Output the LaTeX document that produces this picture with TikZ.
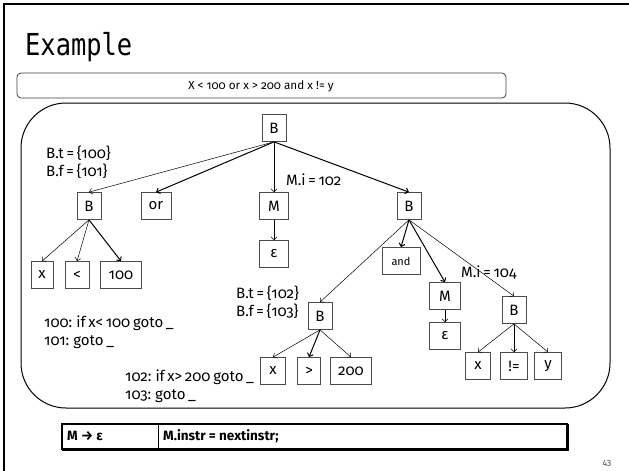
\documentclass[tikz,border=0pt]{standalone}
\usepackage{fontspec}
\setmainfont{Fira Sans}[Numbers=OldStyle]
\newfontfamily\titlefont{DejaVu Sans Mono}
\usetikzlibrary{arrows.meta}
\newcommand\tightsp{\spaceskip=0.18em plus 0.05em\relax}
\tikzset{
  nd/.style={draw=black!70, line width=0.7pt, inner sep=0pt,
             minimum width=24pt, minimum height=27pt, font=\fontsize{15}{15}\selectfont},
  arr/.style={draw=black, line width=0.5pt, -{Straight Barb[length=3pt,width=6pt]}},
  arrb/.style={arr, line width=1pt},
  note/.style={anchor=west, inner sep=0pt, font=\fontsize{15}{18}\selectfont\tightsp, align=left},
}
\begin{document}
\begin{tikzpicture}[x=1pt,y=-1pt]
\useasboundingbox (0,0) rectangle (629,471);
% slide edge
\draw[line width=2pt] (629,4) -- (4,4) -- (4,471);
% title
\node[anchor=base west, inner sep=0pt, yscale=1.19, font=\titlefont\fontsize{25.4}{25.4}\selectfont] (title) at (25,55) {Example};
% expression bar
\draw[black!75, line width=0.8pt, rounded corners=4pt] (17,73) rectangle (506,98);
\node[font=\fontsize{11.7}{11.7}\selectfont] (expr) at (261,86) {X < 100 or x > 200 and x != y};
% parse tree frame
\draw[line width=1pt, rounded corners=45pt] (21,103) rectangle (610,408);

% parse tree nodes
\node[nd] (r) at (274,128) {B};
\node[nd] (b1) at (89,206) {B};
\node[nd, minimum width=30pt] (or) at (156,206) {or};
\node[nd, minimum width=29pt] (m1) at (274,206) {M};
\node[nd, minimum width=29pt] (e1) at (274,254) {ε};
\node[nd] (b2) at (409,206) {B};
\node[nd, minimum width=22pt] (x1) at (42,275) {x};
\node[nd] (lt) at (77,275) {<};
\node[nd, minimum width=41pt] (n100) at (121,275) {100};
\node[nd, minimum width=38pt, font=\fontsize{11}{11}\selectfont] (and) at (401,261) {and};
\node[nd, minimum width=31pt] (m2) at (445,296) {M};
\node[nd, minimum width=31pt] (e2) at (445,336) {ε};
\node[nd] (b3) at (320,316) {B};
\node[nd, minimum width=25pt] (x2) at (273,371) {x};
\node[nd, minimum width=23pt] (gt) at (309,371) {>};
\node[nd, minimum width=41pt] (n200) at (351,371) {200};
\node[nd] (b4) at (514,310) {B};
\node[nd, minimum width=25pt] (x3) at (478,366) {x};
\node[nd, minimum width=27pt] (ne) at (514,366) {!=};
\node[nd, minimum width=27pt] (y) at (548,366) {y};

% edges
\draw[arr]  (r.south) -- (b1.north);
\draw[arrb] (r.south) -- (or.north);
\draw[arr]  (r.south) -- (m1.north);
\draw[arrb] (r.south) -- (b2.north);
\draw[arr]  (m1.south) -- (e1.north);
\draw[arr]  (b1.south) -- (x1.north);
\draw[arr]  (b1.south) -- (lt.north);
\draw[arrb] (b1.south) -- (n100.north);
\draw[arr]  (b2.south) -- (b3.north);
\draw[arrb] (b2.south) -- (and.north);
\draw[arrb] (b2.south) -- (m2.north);
\draw[arr]  (b2.south) -- (b4.north);
\draw[arr]  (m2.south) -- (e2.north);
\draw[arr]  (b3.south) -- (x2.north);
\draw[arrb] (b3.south) -- (gt.north);
\draw[arr]  (b3.south) -- (n200.north);
\draw[arr]  (b4.south) -- (x3.north);
\draw[arr]  (b4.south) -- (ne.north);
\draw[arr]  (b4.south) -- (y.north);

% attribute annotations
\node[note] (a1) at (46,162) {B.t = \{100\}\\B.f = \{101\}};
\node[note] (a2) at (286,180) {M.i = 102};
\node[note] (a3) at (461,272) {M.i = 104};
\node[note] (a4) at (236,302) {B.t = \{102\}\\B.f = \{103\}};
\node[note] (c1) at (44,332) {100: if x< 100 goto \_\\101: goto \_};
\node[note] (c2) at (125,386) {102: if x> 200 goto \_\\103: goto \_};

% semantic rule table
\draw[line width=1.2pt] (62,424) rectangle (567,449);
\draw[line width=2pt] (62,449.5) -- (568,449.5) -- (568,424);
\draw[line width=1pt] (158,424) -- (158,449);
\node[anchor=west, inner sep=0pt, font=\bfseries\fontsize{13.5}{13.5}\selectfont] (rl) at (67,436) {M → ε};
\node[anchor=west, inner sep=0pt, font=\bfseries\fontsize{13.5}{13.5}\selectfont] (rr) at (163,436) {M.instr = nextinstr;};

% slide number
\node[font=\fontsize{9}{9}\selectfont, text=black!70] (pg) at (607,463) {43};
\end{tikzpicture}
\end{document}
